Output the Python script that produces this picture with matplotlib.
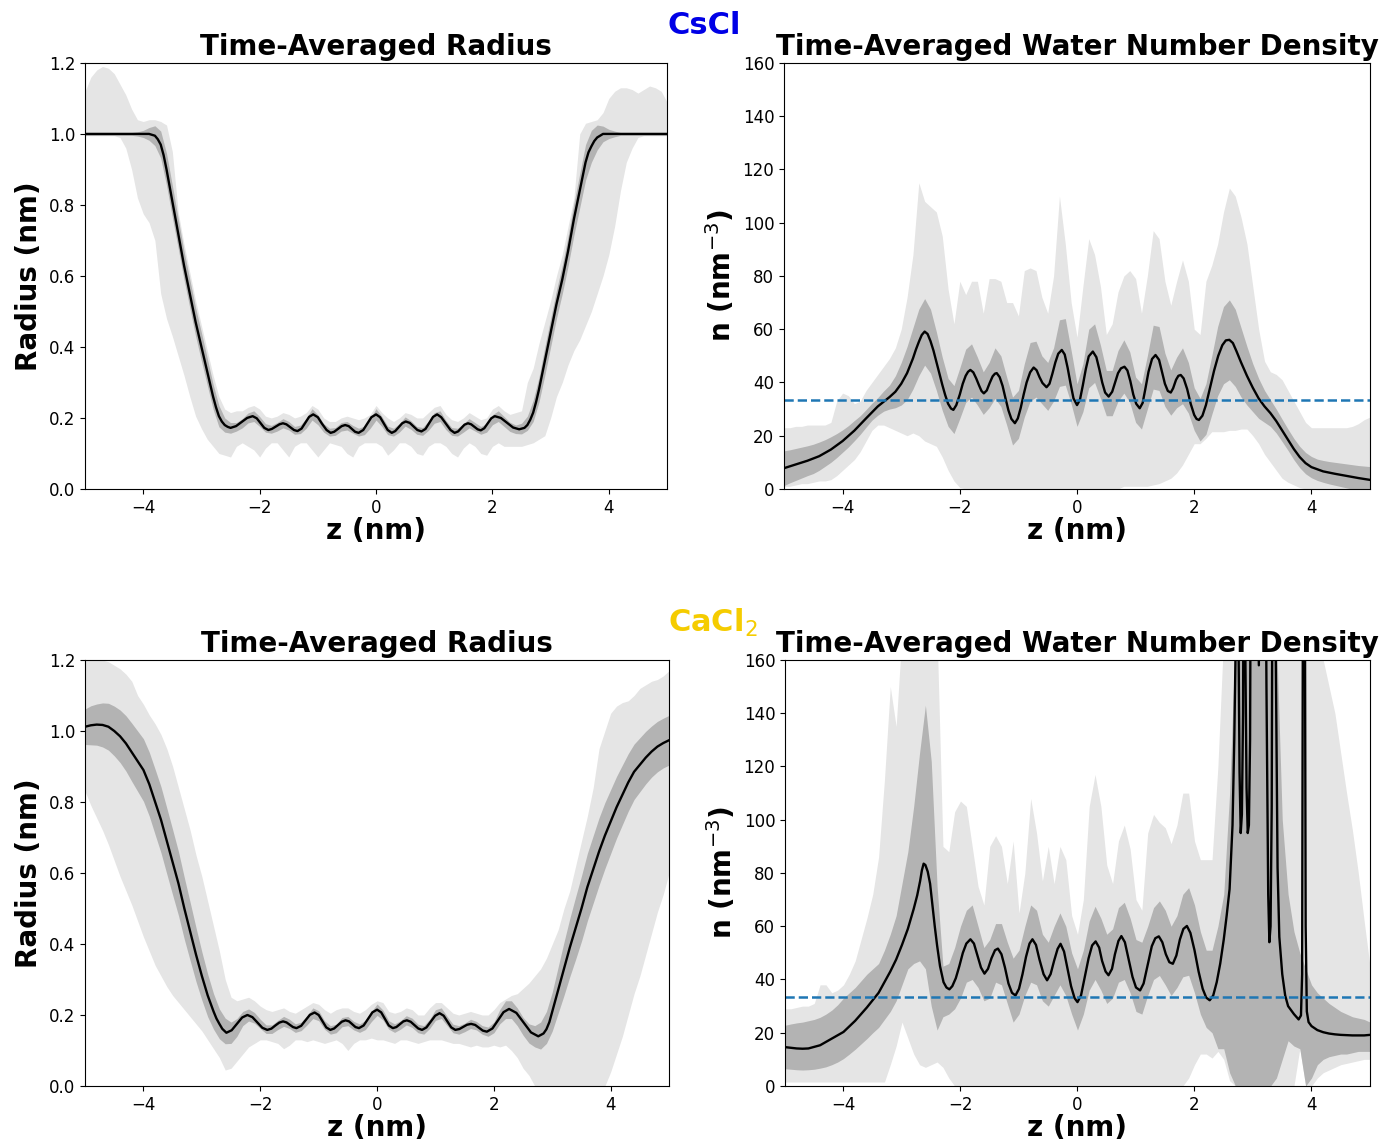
import numpy as np
import matplotlib
matplotlib.use("Agg")
import matplotlib.pyplot as plt

# z grid shared by the bands (nm)
z = np.round(np.linspace(-5, 5, 101), 2)

# ---------------- CsCl : radius ----------------
# mean curve read at its peaks, troughs and flanks
cs_rad_mean_z = [-5.0, -4.2, -3.9, -3.8, -3.75, -3.7, -3.65, -3.6, -3.5, -3.4, -3.3, -3.2, -3.1,
                 -3.0, -2.9, -2.8, -2.75, -2.7, -2.65, -2.6, -2.55, -2.5, -2.405, -2.31, -2.215,
                 -2.12, -2.05, -1.985, -1.92, -1.85, -1.79, -1.725, -1.66, -1.6, -1.54, -1.475,
                 -1.41, -1.35, -1.28, -1.215, -1.15, -1.08, -1.0, -0.93, -0.85, -0.78, -0.72,
                 -0.655, -0.59, -0.53, -0.47, -0.415, -0.36, -0.3, -0.22, -0.15, -0.08, 0.0,
                 0.07, 0.135, 0.2, 0.27, 0.33, 0.39, 0.45, 0.51, 0.58, 0.645, 0.71, 0.78, 0.85,
                 0.915, 0.98, 1.05, 1.12, 1.2, 1.28, 1.35, 1.41, 1.465, 1.52, 1.58, 1.635, 1.69,
                 1.745, 1.8, 1.86, 1.92, 1.98, 2.04, 2.145, 2.25, 2.355, 2.46, 2.55, 2.6, 2.65,
                 2.7, 2.75, 2.8, 2.9, 3.0, 3.1, 3.2, 3.3, 3.4, 3.5, 3.6, 3.65, 3.7, 3.75, 3.8,
                 3.9, 4.2, 5.0]
cs_rad_mean = [1.0, 1.0, 1.0, 0.995, 0.985, 0.97, 0.94, 0.90, 0.81, 0.72, 0.63, 0.55, 0.47,
               0.40, 0.33, 0.26, 0.23, 0.205, 0.19, 0.18, 0.175, 0.172, 0.177, 0.1885, 0.2,
               0.205, 0.199, 0.1855, 0.172, 0.166, 0.169, 0.1755, 0.182, 0.185, 0.182, 0.174,
               0.166, 0.163, 0.17, 0.1865, 0.203, 0.21, 0.202, 0.184, 0.166, 0.158, 0.161,
               0.169, 0.177, 0.18, 0.177, 0.169, 0.161, 0.158, 0.166, 0.184, 0.202, 0.21,
               0.202, 0.184, 0.166, 0.158, 0.163, 0.174, 0.185, 0.19, 0.186, 0.176, 0.166, 0.162,
               0.169, 0.186, 0.203, 0.21, 0.202, 0.184, 0.166, 0.158, 0.162, 0.1715, 0.181,
               0.185, 0.182, 0.175, 0.168, 0.165, 0.171, 0.185, 0.199, 0.205, 0.2, 0.1865,
               0.173, 0.168, 0.172, 0.18, 0.195, 0.215, 0.245, 0.28, 0.36, 0.44, 0.52, 0.59,
               0.67, 0.76, 0.84, 0.92, 0.948, 0.965, 0.98, 0.99, 1.0, 1.0, 1.0]
# the mean on the band grid, used to centre the +/- one sd band
cs_rad_mean_grid = [1.0, 1.0, 1.0, 1.0, 1.0, 1.0, 1.0, 1.0, 1.0, 1.0, 1.0, 1.0,
                    0.995, 0.97, 0.90, 0.81, 0.72, 0.63, 0.55, 0.47, 0.40, 0.33, 0.26, 0.205,
                    0.18, 0.172,
                    0.175, 0.185, 0.2, 0.205, 0.19, 0.172, 0.168, 0.175, 0.185, 0.178,
                    0.165, 0.168, 0.185, 0.21, 0.195, 0.172, 0.16, 0.162, 0.175, 0.178,
                    0.168, 0.16, 0.165, 0.185, 0.21, 0.19, 0.165, 0.16, 0.172, 0.19,
                    0.18, 0.165, 0.162, 0.178, 0.2, 0.205, 0.18, 0.162, 0.16, 0.172,
                    0.185, 0.175, 0.165, 0.172, 0.195, 0.205, 0.19, 0.175, 0.168, 0.17,
                    0.185, 0.22, 0.28, 0.36, 0.44, 0.52, 0.59, 0.67, 0.76, 0.84, 0.92, 0.965,
                    0.99,
                    1.0, 1.0, 1.0, 1.0, 1.0, 1.0, 1.0, 1.0, 1.0, 1.0, 1.0, 1.0]
cs_rad_sd = [0.004, 0.004, 0.004, 0.004, 0.004, 0.004, 0.004, 0.004, 0.004,
             0.006, 0.01, 0.018, 0.028, 0.038, 0.045, 0.045, 0.042, 0.04, 0.04, 0.04, 0.04, 0.038,
             0.035, 0.03, 0.02, 0.015,
             0.012, 0.013, 0.014, 0.015, 0.014, 0.012, 0.011, 0.012, 0.013, 0.012,
             0.011, 0.012, 0.014, 0.016, 0.014, 0.012, 0.011, 0.011, 0.012, 0.012,
             0.011, 0.011, 0.012, 0.014, 0.016, 0.014, 0.012, 0.011, 0.012, 0.013,
             0.012, 0.011, 0.011, 0.013, 0.015, 0.015, 0.013, 0.011, 0.011, 0.012,
             0.013, 0.012, 0.011, 0.012, 0.014, 0.015, 0.014, 0.013, 0.012,
             0.015, 0.02, 0.03, 0.035, 0.04, 0.04, 0.04, 0.04, 0.042, 0.045, 0.048, 0.05, 0.045,
             0.035, 0.022, 0.013, 0.008,
             0.004, 0.004, 0.004, 0.004, 0.004, 0.004, 0.004, 0.004, 0.004]
cs_rad_min = [0.995, 0.995, 0.995, 0.995, 0.995, 0.995,
              0.99, 0.96, 0.9, 0.82, 0.775, 0.75, 0.7, 0.55, 0.48, 0.43, 0.375, 0.32, 0.26, 0.205,
              0.17, 0.14, 0.12, 0.1, 0.095, 0.09,
              0.12, 0.13, 0.12, 0.11, 0.09, 0.115, 0.13, 0.13, 0.11, 0.09,
              0.12, 0.13, 0.13, 0.11, 0.09, 0.11, 0.13, 0.125, 0.12, 0.1,
              0.09, 0.12, 0.13, 0.13, 0.13, 0.12, 0.095, 0.11, 0.13, 0.13,
              0.12, 0.1, 0.095, 0.12, 0.13, 0.13, 0.12, 0.1, 0.09, 0.115,
              0.13, 0.12, 0.1, 0.095, 0.12, 0.13, 0.12, 0.12, 0.12, 0.12,
              0.125, 0.13, 0.14, 0.15, 0.2, 0.26, 0.3, 0.35, 0.39, 0.42, 0.46, 0.5, 0.55, 0.6,
              0.66, 0.74, 0.84, 0.92, 0.96, 0.99,
              0.995, 0.995, 0.995, 0.995, 0.995]
cs_rad_max = [1.12, 1.16, 1.18, 1.19, 1.185, 1.17, 1.14, 1.11, 1.07, 1.04, 1.035, 1.04, 1.04,
              1.035, 1.025,
              0.95, 0.78, 0.69, 0.61, 0.53, 0.46, 0.39, 0.32, 0.26, 0.225, 0.215,
              0.22, 0.22, 0.23, 0.235, 0.225, 0.205, 0.2, 0.205, 0.215, 0.21,
              0.2, 0.205, 0.215, 0.235, 0.225, 0.2, 0.19, 0.19, 0.2, 0.205,
              0.2, 0.195, 0.2, 0.21, 0.235, 0.215, 0.2, 0.19, 0.2, 0.215,
              0.21, 0.2, 0.2, 0.215, 0.23, 0.235, 0.21, 0.195, 0.19, 0.2,
              0.215, 0.205, 0.195, 0.2, 0.225, 0.235, 0.22, 0.21, 0.215, 0.22,
              0.3, 0.34, 0.41, 0.47, 0.53, 0.6, 0.66, 0.74, 0.82, 1.0, 1.03, 1.035, 1.04, 1.06,
              1.1, 1.12, 1.13, 1.13, 1.125, 1.115, 1.125, 1.135, 1.13, 1.12, 1.09]

# ---------------- CsCl : water density ----------------
cs_den_mean_z = [-5.0, -4.8, -4.6, -4.4, -4.2, -4.0, -3.8, -3.6, -3.4, -3.2, -3.1, -3.0, -2.9,
                 -2.8, -2.75, -2.7, -2.65, -2.6, -2.55, -2.5, -2.45, -2.4, -2.35, -2.3, -2.25,
                 -2.2, -2.15, -2.11, -2.06, -2.0, -1.95, -1.9, -1.86, -1.82, -1.77, -1.72,
                 -1.67, -1.63, -1.59, -1.54, -1.49, -1.44, -1.4, -1.37, -1.32, -1.27, -1.22,
                 -1.17, -1.12, -1.06, -1.01, -0.96, -0.91, -0.86, -0.8, -0.74, -0.69, -0.64,
                 -0.59, -0.52, -0.47, -0.42, -0.37, -0.32, -0.26, -0.21, -0.16, -0.11, -0.06,
                 0.0, 0.05, 0.1, 0.15, 0.2, 0.27, 0.33, 0.38, 0.43, 0.48, 0.54, 0.6, 0.65,
                 0.7, 0.75, 0.81, 0.86, 0.91, 0.96, 1.01, 1.07, 1.12, 1.17, 1.22, 1.28, 1.34,
                 1.4, 1.45, 1.5, 1.55, 1.6, 1.64, 1.69, 1.73, 1.77, 1.82, 1.88, 1.94, 2.0,
                 2.04, 2.08, 2.14, 2.2, 2.27, 2.34, 2.41, 2.48, 2.54, 2.6, 2.66, 2.72, 2.8,
                 2.9, 3.0, 3.1, 3.2, 3.3, 3.4, 3.5, 3.6, 3.7, 3.8, 3.9, 4.0, 4.2, 4.4, 4.6,
                 4.8, 5.0]
cs_den_mean = [7.8, 9.2, 10.6, 12.3, 14.8, 18, 21.9, 26.5, 31, 34.5, 36.5, 39.5, 43.5,
               49, 52.3, 55.2, 57.8, 59.1, 58.2, 55.5, 52, 47.8, 43.5, 39.2, 35.3,
               32, 30.2, 29.7, 31.5, 35.5, 39.5, 42.5, 44, 44.7, 43.8, 41.5,
               38.8, 36.8, 35.9, 37, 39.8, 42.3, 43.3, 43.5, 42, 38.7, 34,
               29.5, 26.3, 24.7, 26.5, 30.5, 35.5, 40, 43.8, 45.6, 44.6, 42,
               39.8, 38.2, 39.5, 43.3, 47.5, 50.8, 52.2, 50.5, 45.5, 39.5, 34,
               31.5, 33.5, 39, 45, 49.8, 51.6, 49.5, 45, 40, 36.2, 34.7, 36.5, 40,
               43.5, 45.3, 45.9, 44.5, 40.5, 35.5, 32, 30.3, 32.3, 38, 44, 48.8, 50.3,
               48.5, 44, 39.5, 36.8, 36.2, 37.8, 41, 42.5, 42.8, 41.5, 37.5, 32, 27.8,
               26.3, 25.9, 27.5, 31.5, 38, 44.5, 50, 54, 55.8, 56, 54.8, 51.8, 47.5,
               42.5, 38, 34, 31, 28.5, 25.5, 22, 18.5, 15, 12, 9.7, 8.2, 6.6, 5.7, 4.9,
               4.1, 3.4]
cs_den_mean_grid = [7.8, 8.5, 9.2, 9.9, 10.6, 11.3, 12.3, 13.5, 14.8, 16.3,
                    18, 19.8, 21.9, 24, 26.5, 29, 31, 33, 34.5, 36.5,
                    39.5, 43.5, 49, 55, 59, 55.5, 48, 39.5, 32.5, 29.8,
                    36, 42.5, 44.5, 40.5, 36, 39, 43.5, 40.5, 33, 25.5,
                    28, 37, 44, 45, 41, 38.5, 43, 51, 51.5, 42,
                    31.5, 38, 49, 51, 44, 36, 36, 42.5, 46, 42,
                    33.5, 31, 40, 49.5, 49, 41, 36.2, 40, 42.5, 38,
                    30, 26, 30, 39, 48, 54, 56, 53, 47.5, 42.5,
                    38, 34, 31, 28.5, 25.5, 22, 18.5, 15, 12, 9.7,
                    8.2, 7.2, 6.6, 6.1, 5.7, 5.3, 4.9, 4.5, 4.1, 3.8, 3.4]
cs_den_sd = [6.5, 6.2, 6.0, 5.8, 5.6, 5.5, 5.3, 5.0, 4.8, 4.5,
             4.2, 4.0, 3.8, 3.5, 3.3, 3.2, 3.3, 3.8, 4.5, 6.0,
             8, 10, 11.5, 12.5, 12.5, 12, 11, 10, 9, 9,
             9.5, 10, 10, 9, 8, 8.5, 9.5, 9.5, 9, 9,
             9, 10, 11, 10.5, 9, 9, 10, 12.5, 12.5, 10,
             8, 9, 11, 11, 10, 8.5, 8.5, 9.5, 10, 9.5,
             8.5, 8.5, 10, 12, 12, 10, 8.5, 9.5, 10.5, 9.5,
             8, 8, 9.5, 11, 13, 14.5, 15, 14.5, 13, 11,
             9, 7.5, 6, 5, 4.5, 4.2, 4, 4, 4, 4,
             4, 4, 4.1, 4.2, 4.3, 4.4, 4.5, 4.6, 4.7, 4.8, 5.0]
cs_den_min = [1, 1, 1.5, 2, 2, 2.5, 3, 3, 3.5, 5,
              7, 9, 11, 14, 18, 22, 24, 24, 23, 22,
              21, 20, 21, 20, 18, 17, 16, 12, 7, 3,
              0.5, 0, 0, 0, 0, 0, 0, 0, 0, 0,
              0, 0, 0, 0, 0, 0, 0, 0, 0, 0,
              0, 0, 0, 0, 0, 0, 0, 0, 1, 1,
              1, 1, 1, 1.5, 2, 3, 4, 6, 9, 13,
              17, 17, 19, 21.5, 21.5, 21.5, 22, 22, 22.5, 22.5,
              20, 17, 13, 10, 7, 4, 2.5, 1.5, 0.5, 0,
              0, 0, 0, 0, 0, 0, 0, 0, 0, 0, 0]
cs_den_max = [23, 23, 23.5, 23.5, 24, 24, 24, 24, 25, 33,
              36, 35, 32, 33, 37, 40, 43, 46, 49, 53,
              60, 72, 88, 115, 108, 106, 104, 95, 75, 62,
              78, 73, 78, 78, 66, 79, 79, 78, 70, 70,
              65, 82, 83, 82, 72, 66, 80, 110, 92, 70,
              57, 76, 94, 88, 76, 58, 62, 74, 80, 82,
              79, 66, 80, 97, 94, 78, 69, 78, 86, 78,
              60, 58, 78, 84, 92, 104, 113, 110, 102, 92,
              76, 60, 48, 44, 43, 41, 37, 33, 29, 25,
              23, 23, 23, 23, 23, 23, 23, 23.5, 24.5, 26, 27]

# ---------------- CaCl2 : radius ----------------
ca_rad_mean_z = [-5.0, -4.9, -4.8, -4.7, -4.6, -4.5, -4.4, -4.3, -4.2, -4.1, -4.0, -3.9, -3.8,
                 -3.7, -3.6, -3.5, -3.4, -3.3, -3.2, -3.1, -3.0, -2.9, -2.8, -2.75, -2.7, -2.65,
                 -2.58, -2.49, -2.4, -2.31, -2.22, -2.135, -2.05, -1.965, -1.88, -1.81, -1.745,
                 -1.675, -1.61, -1.55, -1.495, -1.44, -1.38, -1.3, -1.225, -1.15, -1.07, -1.0,
                 -0.935, -0.87, -0.8, -0.735, -0.67, -0.605, -0.54, -0.48, -0.425, -0.37, -0.31,
                 -0.23, -0.155, -0.08, 0.0, 0.07, 0.135, 0.2, 0.27, 0.33, 0.39, 0.45, 0.51,
                 0.575, 0.64, 0.705, 0.77, 0.845, 0.92, 0.995, 1.07, 1.14, 1.205, 1.27, 1.34,
                 1.41, 1.475, 1.54, 1.61, 1.68, 1.745, 1.81, 1.88, 1.975, 2.07, 2.165, 2.26,
                 2.385, 2.51, 2.635, 2.76, 2.85, 2.9, 2.95, 3.0, 3.1, 3.2, 3.3, 3.4, 3.5, 3.6,
                 3.7, 3.8, 3.9, 4.0, 4.1, 4.2, 4.3, 4.4, 4.5, 4.6, 4.7, 4.8, 4.9, 5.0]
ca_rad_mean = [1.012, 1.016, 1.018, 1.017, 1.012, 1.0, 0.985, 0.965, 0.94, 0.915, 0.89, 0.85,
               0.80, 0.75, 0.69, 0.63, 0.57, 0.50, 0.435, 0.37, 0.31, 0.255, 0.21, 0.19, 0.175,
               0.161, 0.15, 0.157, 0.175, 0.193, 0.2, 0.194, 0.179, 0.164, 0.158, 0.1615, 0.17,
               0.1785, 0.182, 0.179, 0.1725, 0.166, 0.163, 0.1695, 0.185, 0.2005, 0.207, 0.2,
               0.1825, 0.165, 0.158, 0.162, 0.1715, 0.181, 0.185, 0.182, 0.174, 0.166, 0.163,
               0.1705, 0.189, 0.2075, 0.215, 0.2075, 0.189, 0.1705, 0.163, 0.166, 0.174, 0.182,
               0.185, 0.181, 0.1715, 0.162, 0.158, 0.165, 0.1815, 0.198, 0.205, 0.198, 0.1815,
               0.165, 0.158, 0.1605, 0.1665, 0.1725, 0.175, 0.172, 0.164, 0.156, 0.153, 0.162,
               0.185, 0.208, 0.217, 0.206, 0.1785, 0.151, 0.14, 0.148, 0.16, 0.18, 0.21, 0.27,
               0.33, 0.39, 0.445, 0.5, 0.56, 0.61, 0.66, 0.705, 0.745, 0.785, 0.82, 0.855,
               0.885, 0.905, 0.925, 0.942, 0.956, 0.966, 0.974]
ca_rad_mean_grid = [1.012, 1.016, 1.018, 1.017, 1.012, 1.0, 0.985, 0.965, 0.94, 0.915,
                    0.89, 0.85, 0.80, 0.75, 0.69, 0.63, 0.57, 0.50, 0.435, 0.37,
                    0.31, 0.255, 0.21, 0.175, 0.155, 0.15, 0.165, 0.19, 0.2, 0.192,
                    0.175, 0.16, 0.16, 0.172, 0.182, 0.175, 0.163, 0.168, 0.185, 0.205,
                    0.198, 0.172, 0.158, 0.162, 0.18, 0.183, 0.17, 0.163, 0.172, 0.195,
                    0.215, 0.2, 0.172, 0.163, 0.172, 0.185, 0.178, 0.162, 0.158, 0.175,
                    0.2, 0.205, 0.183, 0.162, 0.158, 0.165, 0.175, 0.17, 0.158, 0.153,
                    0.165, 0.195, 0.215, 0.215, 0.195, 0.168, 0.148, 0.14, 0.142, 0.165,
                    0.21, 0.27, 0.33, 0.39, 0.445, 0.5, 0.56, 0.61, 0.66, 0.705,
                    0.745, 0.785, 0.82, 0.855, 0.885, 0.905, 0.925, 0.942, 0.956, 0.966, 0.974]
ca_rad_sd = [0.05, 0.055, 0.058, 0.062, 0.066, 0.07, 0.074, 0.078, 0.082, 0.085,
             0.088, 0.09, 0.092, 0.093, 0.093, 0.092, 0.09, 0.087, 0.082, 0.076,
             0.068, 0.06, 0.05, 0.042, 0.036, 0.03, 0.025, 0.02, 0.017, 0.015,
             0.013, 0.012, 0.012, 0.013, 0.014, 0.013, 0.012, 0.012, 0.013, 0.015,
             0.014, 0.012, 0.012, 0.012, 0.013, 0.013, 0.012, 0.012, 0.013, 0.014,
             0.016, 0.014, 0.012, 0.012, 0.012, 0.013, 0.013, 0.012, 0.012, 0.013,
             0.015, 0.015, 0.013, 0.012, 0.012, 0.012, 0.013, 0.012, 0.012, 0.013,
             0.015, 0.02, 0.025, 0.025, 0.025, 0.025, 0.027, 0.03, 0.038, 0.045,
             0.055, 0.065, 0.075, 0.082, 0.088, 0.092, 0.095, 0.095, 0.095, 0.093,
             0.09, 0.087, 0.084, 0.081, 0.078, 0.076, 0.074, 0.072, 0.071, 0.07, 0.07]
ca_rad_min = [0.83, 0.79, 0.755, 0.72, 0.68, 0.635, 0.59, 0.55, 0.51, 0.465,
              0.42, 0.38, 0.34, 0.31, 0.28, 0.255, 0.235, 0.215, 0.195, 0.175,
              0.155, 0.13, 0.105, 0.08, 0.045, 0.05, 0.07, 0.09, 0.11, 0.12,
              0.13, 0.13, 0.125, 0.12, 0.105, 0.115, 0.13, 0.13, 0.125, 0.13,
              0.125, 0.12, 0.125, 0.13, 0.12, 0.1, 0.12, 0.13, 0.13, 0.135,
              0.13, 0.13, 0.125, 0.12, 0.13, 0.13, 0.125, 0.12, 0.125, 0.13,
              0.13, 0.13, 0.125, 0.12, 0.12, 0.115, 0.11, 0.115, 0.11, 0.11,
              0.115, 0.11, 0.115, 0.1, 0.08, 0.05, 0.03, 0, 0, 0,
              0, 0, 0, 0, 0, 0, 0, 0, 0, 0,
              0.04, 0.09, 0.14, 0.2, 0.26, 0.31, 0.37, 0.43, 0.49, 0.54, 0.6]
ca_rad_max = [1.21, 1.21, 1.205, 1.2, 1.195, 1.185, 1.175, 1.16, 1.14, 1.1,
              1.075, 1.045, 1.02, 0.99, 0.95, 0.9, 0.84, 0.78, 0.72, 0.65,
              0.59, 0.52, 0.45, 0.38, 0.3, 0.25, 0.24, 0.245, 0.25, 0.24,
              0.225, 0.215, 0.21, 0.215, 0.22, 0.21, 0.205, 0.215, 0.225, 0.235,
              0.23, 0.215, 0.205, 0.215, 0.22, 0.22, 0.21, 0.205, 0.215, 0.23,
              0.24, 0.235, 0.21, 0.205, 0.21, 0.22, 0.215, 0.2, 0.2, 0.22,
              0.235, 0.235, 0.22, 0.205, 0.2, 0.205, 0.21, 0.205, 0.2, 0.2,
              0.215, 0.235, 0.245, 0.255, 0.26, 0.275, 0.29, 0.31, 0.33, 0.36,
              0.4, 0.44, 0.5, 0.55, 0.62, 0.69, 0.76, 0.84, 0.95, 1.0,
              1.05, 1.07, 1.08, 1.085, 1.1, 1.12, 1.13, 1.14, 1.145, 1.155, 1.17]

# ---------------- CaCl2 : water density ----------------
# sharp spikes near the right mouth go far above the axis top
ca_den_z = [-5.0, -4.8, -4.7, -4.6, -4.4, -4.2, -4.0, -3.8, -3.6, -3.4, -3.2, -3.1, -3.0,
            -2.9, -2.8, -2.74, -2.69, -2.66, -2.63, -2.6, -2.56, -2.52, -2.48, -2.44, -2.4,
            -2.35, -2.29, -2.24, -2.19, -2.14, -2.08, -2.02, -1.96, -1.9, -1.83, -1.77,
            -1.71, -1.65, -1.59, -1.53, -1.47, -1.41, -1.36, -1.3, -1.24, -1.18, -1.12,
            -1.06, -1.0, -0.94, -0.88, -0.82, -0.77, -0.71, -0.65, -0.58, -0.52, -0.46,
            -0.4, -0.34, -0.29, -0.23, -0.17, -0.11, -0.05, 0.0, 0.06, 0.12, 0.19, 0.25,
            0.31, 0.37, 0.42, 0.48, 0.53, 0.59, 0.64, 0.7, 0.75, 0.81, 0.87, 0.94, 1.0,
            1.07, 1.13, 1.2, 1.27, 1.33, 1.39, 1.45, 1.51, 1.57, 1.63, 1.69, 1.75, 1.81,
            1.87, 1.93, 2.0, 2.07, 2.14, 2.2, 2.26, 2.32, 2.38, 2.44, 2.5,
            2.55, 2.6, 2.65, 2.68, 2.71, 2.73, 2.75, 2.77, 2.79, 2.81,
            2.83, 2.85, 2.87, 2.89, 2.91, 2.93, 2.95, 2.97, 3.05, 3.1,
            3.12, 3.2, 3.23, 3.26, 3.28, 3.3, 3.32, 3.34, 3.37, 3.39,
            3.42, 3.45, 3.5, 3.55, 3.6, 3.7, 3.78, 3.82, 3.84, 3.86,
            3.88, 3.9, 3.92, 3.95, 4.0, 4.1, 4.2, 4.3, 4.4, 4.5,
            4.6, 4.7, 4.8, 4.9, 5.0]
ca_den_mean = [14.6, 14.1, 14.0, 14.1, 15.3, 17.8, 20.3, 24.5, 29.5, 35, 43, 47.5, 53,
               59, 66.5, 71.6, 77, 81, 83.5, 83, 80.5, 76, 68, 60, 52.8,
               45, 39, 37, 36.3, 37.5, 40.5, 45, 50, 53.5, 55.1, 53.5,
               49, 44.5, 42.2, 44, 48, 51, 51.6, 49.5, 44.5, 38.5, 35,
               34, 36.5, 42, 48.5, 53.5, 55.1, 53, 47.5, 42, 39.7, 42,
               47, 51.5, 53.4, 50.5, 44, 37.5, 33, 31.5, 34, 40.5, 48, 52.8,
               54.3, 52, 47, 43, 41.6, 44, 49.5, 54.5, 56.3, 54, 48, 41, 37,
               35.9, 38.5, 45.5, 52.5, 55.5, 56.2, 54, 49.5, 46.5, 45.9, 49, 55, 59,
               60.1, 57.5, 51, 43, 36.5, 33.2, 32.2, 34, 39, 46, 55,
               64, 74, 98, 130, 175, 260, 175, 118, 95, 102,
               140, 260, 160, 112, 95, 98, 130, 260, 260, 158,
               260, 260, 150, 72, 54, 60, 105, 260, 260, 160,
               82, 56, 42, 34, 30, 27, 25, 26.5, 42, 260,
               260, 60, 28, 24, 22.5, 21, 20.2, 19.7, 19.4, 19.2,
               19.1, 19, 19, 19, 19.2]
ca_den_sd_lo = [6.5, 6.3, 6.1, 6, 6.1, 6.3, 6.7, 7.2, 8, 9,
                10.3, 12, 13.8, 15.8, 17.8, 20, 22, 25, 28, 32,
                38, 44, 46, 47, 44, 30, 21, 26, 27, 29,
                33, 39, 40, 37, 32, 33, 39, 38, 31, 24,
                27, 34, 39, 38, 32, 30, 34, 38, 34, 27,
                21, 27, 36, 40, 36, 31, 33, 39, 40, 35,
                28, 27, 34, 40, 41.5, 38, 34, 37, 41, 41.6,
                35, 27, 22, 20, 14, 14, 5, 0, 0, 0,
                0, 0, 0, 0, 3, 10, 17, 15, 14, 0,
                3, 8, 10, 11, 11.5, 12, 12, 12.5, 13, 13, 13]
ca_den_sd_hi = [22.8, 23.3, 23.7, 24, 24.5, 25, 25.8, 27, 28.5, 30.5,
                33, 35, 37, 39.5, 42, 44, 46, 51, 57, 64,
                76, 88, 105, 125, 143, 122, 75, 45, 46, 52,
                60, 66, 68, 60, 52, 55, 61, 61, 54, 48,
                51, 60, 68, 66, 57, 54, 60, 65, 60, 50,
                44, 51, 62, 67.5, 63, 57, 59, 67, 69, 63,
                55, 54, 60, 67, 69.5, 66, 60, 64, 72, 74.5,
                68, 58, 51, 51, 60, 72, 110, 170, 170, 170,
                170, 170, 170, 170, 170, 100, 72, 58, 50, 44,
                38, 35, 33, 31, 29.5, 28, 27, 26, 25.5, 25, 24]
ca_den_min = [1.5, 1.5, 1.5, 1.5, 1.5, 1.5, 1.5, 1.5, 1.5, 1.5,
              1.5, 1.5, 1.5, 1.5, 1.5, 1.5, 1.5, 1.5, 8, 15,
              24, 18, 12, 8, 7, 8, 9, 7, 3, 0,
              0, 0, 0, 0, 0, 0, 0, 0, 0, 0,
              0, 0, 0, 0, 0, 0, 0, 0, 0, 0,
              0, 0, 0, 0, 0, 0, 0, 0, 0, 0,
              0, 0, 0, 0, 0, 0, 0, 0, 0, 3,
              8, 12, 12, 10.5, 13, 10, 2, 0, 0, 0,
              0, 0, 0, 0, 0, 0, 0, 0, 14, 0,
              0, 3, 5, 6, 7, 8, 8.5, 9, 9.5, 10, 10]
ca_den_max = [29, 29, 29.5, 30, 30, 31, 38, 38, 35, 36,
              38, 42, 47, 55, 63, 72, 86, 115, 150, 135,
              170, 170, 170, 170, 170, 170, 170, 90, 88, 103,
              107, 105, 90, 75, 68, 90, 94, 90, 76, 92,
              65, 80, 108, 95, 77, 90, 76, 90, 85, 64,
              57, 70, 105, 117, 105, 83, 76, 92, 98, 89,
              70, 66, 95, 102, 99, 97, 91, 98, 110, 110,
              92, 85, 85, 85, 120, 170, 170, 170, 170, 170,
              170, 170, 170, 170, 170, 170, 170, 170, 170, 170,
              170, 170, 160, 150, 140, 125, 110, 96, 80, 62, 45]

bulk_density = 33.4

light = "#e5e5e5"
dark = "#b3b3b3"

plt.rcParams["font.family"] = "DejaVu Sans"

fig = plt.figure(figsize=(13.83, 11.44), dpi=100)


def draw(rect, title, ylabel, ylim, yticks, lo1, hi1, lo2, hi2, zm, mean, bulk=None):
    ax = fig.add_axes(rect)
    ax.fill_between(z, lo1, hi1, color=light, lw=0)
    ax.fill_between(z, lo2, hi2, color=dark, lw=0)
    ax.plot(zm, mean, color="black", lw=1.7, solid_joinstyle="round")
    if bulk is not None:
        ax.axhline(bulk, color="#1f77b4", ls="--", lw=1.8)
    ax.set_xlim(-5, 5)
    ax.set_ylim(*ylim)
    ax.set_xticks([-4, -2, 0, 2, 4])
    ax.set_yticks(yticks)
    ax.tick_params(labelsize=12)
    ax.set_title(title, fontsize=20, fontweight="bold")
    ax.set_xlabel("z (nm)", fontsize=20, fontweight="bold", labelpad=0)
    ax.set_ylabel(ylabel, fontsize=20, fontweight="bold")
    return ax


rad_ticks = [0.0, 0.2, 0.4, 0.6, 0.8, 1.0, 1.2]
den_ticks = [0, 20, 40, 60, 80, 100, 120, 140, 160]
n_label = r"n (nm$^{-3}$)"

m = np.array(cs_rad_mean_grid); s = np.array(cs_rad_sd)
draw([0.0615, 0.5726, 0.4208, 0.3724], "Time-Averaged Radius", "Radius (nm)", (0, 1.2),
     rad_ticks, cs_rad_min, cs_rad_max, m - s, m + s, cs_rad_mean_z, cs_rad_mean)

m = np.array(cs_den_mean_grid); s = np.array(cs_den_sd)
draw([0.5669, 0.5726, 0.4237, 0.3724], "Time-Averaged Water Number Density", n_label, (0, 160),
     den_ticks, cs_den_min, cs_den_max, m - s, m + s, cs_den_mean_z, cs_den_mean, bulk_density)

m = np.array(ca_rad_mean_grid); s = np.array(ca_rad_sd)
draw([0.0615, 0.0507, 0.4223, 0.3724], "Time-Averaged Radius", "Radius (nm)", (0, 1.2),
     rad_ticks, ca_rad_min, ca_rad_max, m - s, m + s, ca_rad_mean_z, ca_rad_mean)

draw([0.5676, 0.0507, 0.4230, 0.3724], "Time-Averaged Water Number Density", n_label, (0, 160),
     den_ticks, ca_den_min, ca_den_max, ca_den_sd_lo, ca_den_sd_hi, ca_den_z, ca_den_mean,
     bulk_density)

fig.text(0.509, 0.978, "CsCl", color="#0000e6", fontsize=22, fontweight="bold",
         ha="center", va="center")
fig.text(0.5155, 0.4554, r"CaCl$_2$", color="#f5cc00", fontsize=22, fontweight="bold",
         ha="center", va="center")

fig.savefig("out.png", dpi=100)
